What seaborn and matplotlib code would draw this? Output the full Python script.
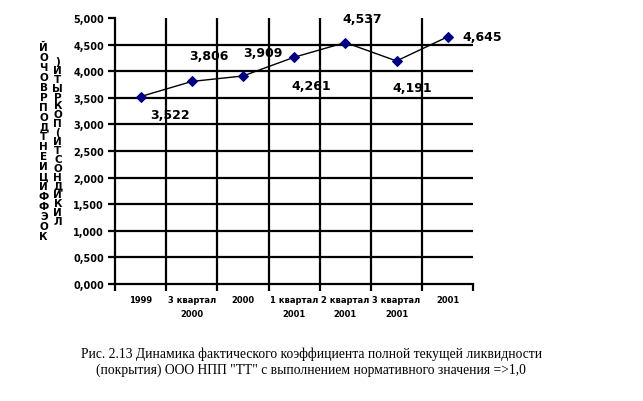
import matplotlib
matplotlib.use("Agg")
import matplotlib.pyplot as plt
import pandas as pd
import seaborn as sns

# данные графика
periods = ["1999", "3 квартал\n2000", "2000", "1 квартал\n2001",
           "2 квартал\n2001", "3 квартал\n2001", "2001"]
values = [3.522, 3.806, 3.909, 4.261, 4.537, 4.191, 4.645]
y_ticks = [0.0, 0.5, 1.0, 1.5, 2.0, 2.5, 3.0, 3.5, 4.0, 4.5, 5.0]
# смещения подписей (пункты)
label_offsets = [(21, -13), (12, 19), (14, 17), (12, -20), (12, 17), (11, -19), (25, 0)]

ylabel_col1 = "ЙОЧОВРПОДТНЕИЦИФФЭОК"
ylabel_col2 = ")ИТЫРКОП(ИТСОНДИКИЛ"
caption = ("Рис. 2.13 Динамика фактического коэффициента полной текущей ликвидности\n"
           "(покрытия) ООО НПП \"ТТ\" с выполнением нормативного значения =>1,0")

df = pd.DataFrame({"period": periods, "value": values})

sns.set_theme(style="white")
plt.rcParams["font.family"] = ["DejaVu Sans"]
plt.rcParams["text.color"] = "black"
plt.rcParams["xtick.color"] = "black"
plt.rcParams["ytick.color"] = "black"

fig = plt.figure(figsize=(6.43, 4.02), dpi=100)
ax = fig.add_axes([0.179, 0.291, 0.557, 0.662])

sns.lineplot(data=df, x="period", y="value", ax=ax, color="black", lw=1,
             marker="D", markersize=5, markerfacecolor="#000080",
             markeredgecolor="#000080", sort=False)

n = len(periods)
ax.set_xlim(-0.5, n - 0.5)
ax.set_ylim(y_ticks[0], y_ticks[-1])

# сетка: горизонтальные линии на делениях, вертикальные между категориями
for t in y_ticks[1:-1]:
    ax.axhline(t, color="black", lw=1.6, zorder=0)
for i in range(n - 1):
    ax.axvline(i + 0.5, color="black", lw=1.6, zorder=0)

for s in ["top", "right"]:
    ax.spines[s].set_visible(False)
for s in ["left", "bottom"]:
    ax.spines[s].set_color("black")
    ax.spines[s].set_linewidth(1.6)

ax.set_yticks(y_ticks)
ax.set_yticklabels([f"{t:.3f}".replace(".", ",") for t in y_ticks],
                   fontsize=7, fontweight="bold")
ax.set_xticks([i - 0.5 for i in range(n + 1)])
ax.set_xticklabels([])
ax.set_xticks(range(n), minor=True)
ax.set_xticklabels(periods, minor=True, fontsize=6, fontweight="bold",
                   linespacing=1.7, va="top")
ax.tick_params(axis="y", which="major", direction="out", length=5, width=1.6,
               left=True, pad=3)
ax.tick_params(axis="x", which="major", direction="out", length=5, width=1.6,
               bottom=True)
ax.tick_params(axis="x", which="minor", length=0, pad=8)
ax.set_xlabel("")
ax.set_ylabel("")

for i, (v, off) in enumerate(zip(values, label_offsets)):
    ax.annotate(f"{v:.3f}".replace(".", ","), (i, v), xytext=off,
                textcoords="offset points", ha="center", va="center",
                fontsize=9, fontweight="bold")

fig.text(0.068, 0.893, "\n".join(ylabel_col1), ha="center", va="top",
         fontsize=7.5, fontweight="bold", linespacing=0.99)
fig.text(0.090, 0.858, "\n".join(ylabel_col2), ha="center", va="top",
         fontsize=7.5, fontweight="bold", linespacing=0.86)

fig.text(0.484, 0.100, caption, ha="center", va="center",
         fontsize=9.8, family="Liberation Serif", linespacing=1.25)

fig.savefig("out.png", dpi=100, facecolor="white")
